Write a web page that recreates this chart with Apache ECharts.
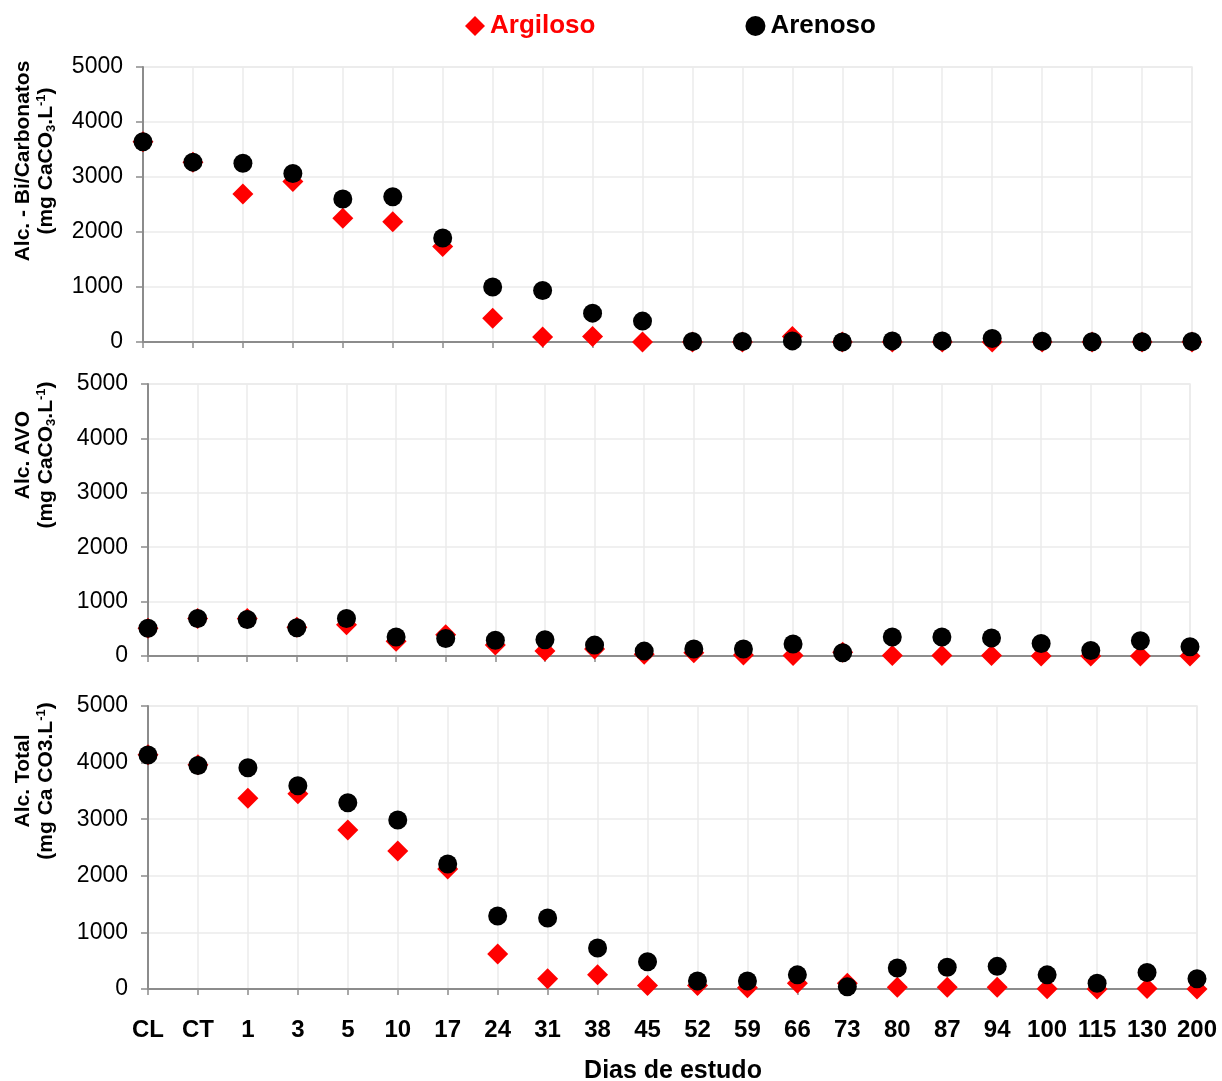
<!DOCTYPE html>
<html>
<head>
<meta charset="utf-8">
<title>Alcalinidade - Argiloso x Arenoso</title>
<script src="https://cdn.jsdelivr.net/npm/echarts@6/dist/echarts.min.js"></script>
<style>
    html, body { margin: 0; padding: 0; background: #ffffff; }
    #chart_content { width: 1222px; height: 1081px; }
</style>
</head>
<body>
<div id="chart_content"></div>
<script>
// dias de estudo (eixo x comum aos tres paineis)
var dias = ['CL', 'CT', '1', '3', '5', '10', '17', '24', '31', '38', '45', '52', '59', '66', '73', '80', '87', '94', '100', '115', '130', '200'];
var yTicks = [0, 1000, 2000, 3000, 4000, 5000];

// Alc. - Bi/Carbonatos
var bicarbArgiloso = [3640, 3270, 2690, 2920, 2250, 2185, 1735, 430, 90, 100, 0, 0, 0, 100, 0, 0, 0, 0, 0, 0, 0, 0];
var bicarbArenoso  = [3640, 3270, 3250, 3065, 2600, 2640, 1890, 1000, 935, 525, 380, 10, 10, 20, 0, 20, 20, 65, 15, 5, 5, 10];

// Alc. AVO
var avoArgiloso = [510, 690, 690, 530, 575, 270, 390, 200, 90, 130, 30, 60, 20, 10, 70, 10, 10, 10, 0, 0, 0, 0];
var avoArenoso  = [510, 690, 670, 520, 690, 350, 320, 290, 300, 200, 90, 130, 130, 220, 60, 350, 350, 330, 230, 100, 280, 170];

// Alc. Total
var totalArgiloso = [4140, 3960, 3370, 3450, 2810, 2440, 2120, 620, 180, 250, 60, 60, 20, 100, 100, 30, 30, 30, 5, 0, 10, 0];
var totalArenoso  = [4135, 3950, 3910, 3590, 3290, 2985, 2210, 1290, 1255, 725, 480, 140, 140, 250, 40, 370, 385, 400, 250, 100, 290, 180];

var font = 'Arial, "Liberation Sans", sans-serif';
var axisGray = '#8c8c8c';
var lineGray = '#ebebeb';

var chart = echarts.init(document.getElementById('chart_content'));

function x_axis(idx, showLabel) {
    return {
        type: 'category',
        gridIndex: idx,
        data: dias,
        boundaryGap: false,
        axisLine: { lineStyle: { color: axisGray, width: 2 } },
        axisTick: { show: true, length: 6, lineStyle: { color: axisGray, width: 1.5 } },
        axisLabel: {
            show: showLabel,
            interval: 0,
            margin: 29,
            color: '#000',
            fontSize: 24,
            fontWeight: 'bold',
            fontFamily: font
        },
        splitLine: { show: true, lineStyle: { color: lineGray, width: 1.5 } }
    };
}

var nameRich = {
    b: { fontSize: 21, fontWeight: 'bold', fontFamily: font, lineHeight: 23, color: '#000' },
    sub: { fontSize: 13, fontWeight: 'bold', fontFamily: font, lineHeight: 13, verticalAlign: 'bottom', color: '#000' },
    sup: { fontSize: 13, fontWeight: 'bold', fontFamily: font, lineHeight: 13, verticalAlign: 'top', color: '#000' }
};

// shift: desloca o titulo para cima (padding do lado esquerdo do texto girado)
function y_axis(idx, name, gap, shift) {
    return {
        type: 'value',
        gridIndex: idx,
        min: yTicks[0],
        max: yTicks[yTicks.length - 1],
        interval: yTicks[1] - yTicks[0],
        name: name,
        nameLocation: 'middle',
        nameRotate: 90,
        nameGap: gap,
        nameTextStyle: {
            fontSize: 21,
            fontWeight: 'bold',
            fontFamily: font,
            color: '#000',
            align: 'center',
            padding: [0, 0, 0, shift],
            rich: nameRich
        },
        axisLine: { show: true, lineStyle: { color: axisGray, width: 2 } },
        axisTick: { show: true, length: 7, lineStyle: { color: axisGray, width: 1.5 } },
        axisLabel: {
            margin: 20,
            color: '#000',
            fontSize: 23,
            fontFamily: font,
            formatter: function (v) { return String(v); }
        },
        splitLine: { show: true, lineStyle: { color: lineGray, width: 1.5 } }
    };
}

function serie(name, idx, values) {
    var argiloso = name === 'Argiloso';
    return {
        name: name,
        type: 'scatter',
        xAxisIndex: idx,
        yAxisIndex: idx,
        symbol: argiloso ? 'diamond' : 'circle',
        symbolSize: argiloso ? 21 : 19,
        itemStyle: { color: argiloso ? '#ff0000' : '#000000', opacity: 1 },
        z: argiloso ? 2 : 3,
        data: values
    };
}

var option = {
    backgroundColor: '#ffffff',
    animation: false,
    legend: {
        left: 460,
        top: 8,
        itemWidth: 20,
        itemHeight: 20,
        itemGap: 150,
        textStyle: { fontSize: 26, fontWeight: 'bold', fontFamily: font },
        data: [
            { name: 'Argiloso', icon: 'diamond', textStyle: { color: '#ff0000' } },
            { name: 'Arenoso', icon: 'circle', textStyle: { color: '#000000' } }
        ]
    },
    grid: [
        { left: 143, width: 1049, top: 67, height: 275, show: true, borderColor: lineGray, borderWidth: 1.5 },
        { left: 148, width: 1042, top: 384, height: 272, show: true, borderColor: lineGray, borderWidth: 1.5 },
        { left: 148, width: 1049, top: 706, height: 283, show: true, borderColor: lineGray, borderWidth: 1.5 }
    ],
    xAxis: [x_axis(0, false), x_axis(1, false), x_axis(2, true)],
    yAxis: [
        y_axis(0, '{b|Alc. - Bi/Carbonatos}\n{b|(mg CaCO}{sub|3}{b|.L}{sup|-1}{b|)}', 85, 87),
        y_axis(1, '{b|Alc. AVO}\n{b|(mg CaCO}{sub|3}{b|.L}{sup|-1}{b|)}', 90, 130),
        y_axis(2, '{b|Alc. Total}\n{b|(mg Ca CO3.L}{sup|-1}{b|)}', 90, 133)
    ],
    graphic: [
        {
            type: 'text',
            x: 673,
            y: 1071,
            style: {
                text: 'Dias de estudo',
                font: 'bold 25px ' + font,
                fill: '#000',
                align: 'center',
                verticalAlign: 'middle'
            }
        }
    ],
    series: [
        serie('Argiloso', 0, bicarbArgiloso),
        serie('Arenoso', 0, bicarbArenoso),
        serie('Argiloso', 1, avoArgiloso),
        serie('Arenoso', 1, avoArenoso),
        serie('Argiloso', 2, totalArgiloso),
        serie('Arenoso', 2, totalArenoso)
    ]
};

chart.setOption(option, true);
</script>
</body>
</html>
